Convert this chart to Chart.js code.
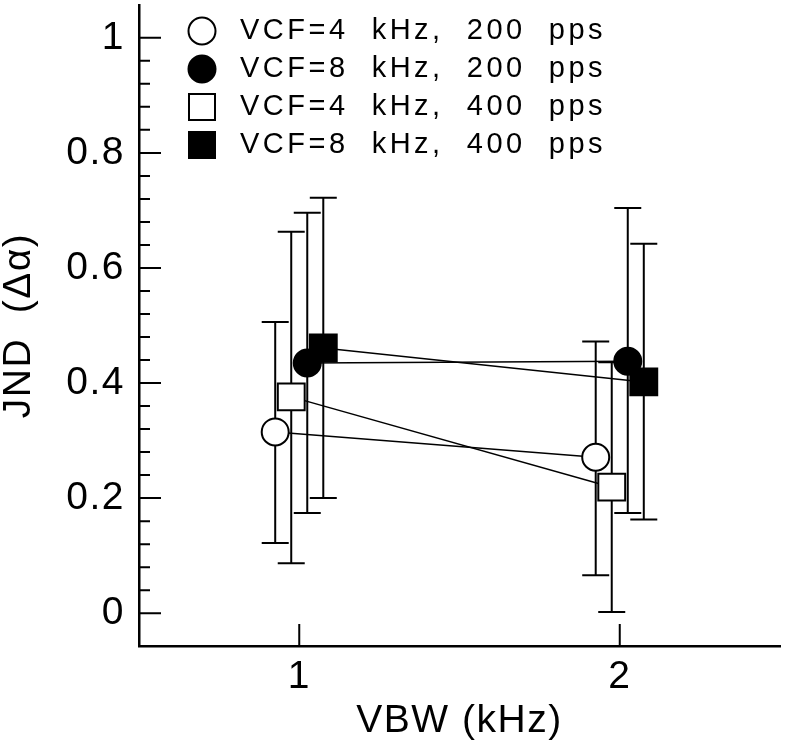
<!DOCTYPE html>
<html>
<head>
<meta charset="utf-8">
<script src="https://cdn.jsdelivr.net/npm/chart.js@4.4.1/dist/chart.umd.min.js"></script>
<style>
  html, body { margin: 0; padding: 0; background: #fff; }
  #wrap { width: 785px; height: 750px; }
</style>
</head>
<body>
<div id="wrap"><canvas id="chart" width="785" height="750"></canvas></div>
<script>
// VBW categories (x) and the small left/right shift of each series
const vbw = [1, 2];
const dodge = [-0.075, 0.025, -0.025, 0.075];

// tick labels
const xTicks = [1, 2];
const yTicks = [0, 0.2, 0.4, 0.6, 0.8, 1];
const yMinorStep = 0.04;

// series: JND mean, lower and upper end of the error bar
const labels = ['VCF=4  kHz,  200  pps', 'VCF=8  kHz,  200  pps', 'VCF=4  kHz,  400  pps', 'VCF=8  kHz,  400  pps'];
const jnd4k200 = [0.315, 0.271];
const low4k200 = [0.122, 0.066];
const high4k200 = [0.506, 0.472];
const jnd8k200 = [0.435, 0.438];
const low8k200 = [0.174, 0.174];
const high8k200 = [0.696, 0.704];
const jnd4k400 = [0.376, 0.219];
const low4k400 = [0.087, 0.002];
const high4k400 = [0.663, 0.436];
const jnd8k400 = [0.461, 0.402];
const low8k400 = [0.200, 0.163];
const high8k400 = [0.722, 0.642];

const FONT = 'Liberation Sans, Arial, sans-serif';

function makeSet(i, means, lows, highs, style, filled){
  return {
    label: labels[i],
    data: vbw.map((v, k) => ({ x: v + dodge[i], y: means[k] })),
    errLow: lows, errHigh: highs,
    showLine: true,
    borderColor: '#000', borderWidth: 1.5,
    pointStyle: style,
    pointRadius: style === 'rect' ? 19 : 13.5,
    pointBorderWidth: 2,
    pointBorderColor: '#000',
    pointBackgroundColor: filled ? '#000' : '#fff'
  };
}

const datasets = [
  makeSet(0, jnd4k200, low4k200, high4k200, 'circle', false),
  makeSet(1, jnd8k200, low8k200, high8k200, 'circle', true),
  makeSet(2, jnd4k400, low4k400, high4k400, 'rect', false),
  makeSet(3, jnd8k400, low8k400, high8k400, 'rect', true)
];

// spacing of the plot's lettering
const spacing = {
  id: 'spacing',
  beforeDraw(chart){ chart.ctx.letterSpacing = '1.5px'; }
};

// error bars, under the markers
const errorBars = {
  id: 'errorBars',
  beforeDatasetsDraw(chart){
    const { ctx, scales: { x, y } } = chart;
    ctx.save();
    ctx.strokeStyle = '#000'; ctx.lineWidth = 2;
    chart.data.datasets.forEach(ds => {
      ds.data.forEach((p, k) => {
        const px = x.getPixelForValue(p.x);
        const yl = y.getPixelForValue(ds.errLow[k]);
        const yh = y.getPixelForValue(ds.errHigh[k]);
        ctx.beginPath();
        ctx.moveTo(px, yl); ctx.lineTo(px, yh);
        ctx.moveTo(px - 13.5, yl); ctx.lineTo(px + 13.5, yl);
        ctx.moveTo(px - 13.5, yh); ctx.lineTo(px + 13.5, yh);
        ctx.stroke();
      });
    });
    ctx.restore();
  }
};

// inward tick marks
const inwardTicks = {
  id: 'inwardTicks',
  afterDraw(chart){
    const { ctx, chartArea, scales: { x, y } } = chart;
    ctx.save();
    ctx.strokeStyle = '#000'; ctx.lineWidth = 2;
    ctx.beginPath();
    const last = yTicks[yTicks.length - 1];
    for (let k = 0; k * yMinorStep <= last + 1e-9; k++){
      const v = k * yMinorStep;
      const major = yTicks.some(t => Math.abs(t - v) < 1e-9);
      const py = y.getPixelForValue(v);
      ctx.moveTo(chartArea.left, py);
      ctx.lineTo(chartArea.left + (major ? 22 : 11), py);
    }
    xTicks.forEach(v => {
      const px = x.getPixelForValue(v);
      ctx.moveTo(px, chartArea.bottom);
      ctx.lineTo(px, chartArea.bottom - 22);
    });
    ctx.stroke();
    ctx.restore();
  }
};

// legend in the top left corner of the plot
const cornerLegend = {
  id: 'cornerLegend',
  afterDraw(chart){
    const ctx = chart.ctx;
    ctx.save();
    ctx.font = '29px ' + FONT;
    ctx.letterSpacing = '3.5px';
    ctx.textBaseline = 'middle';
    ctx.textAlign = 'left';
    ctx.lineWidth = 2;
    chart.data.datasets.forEach((ds, i) => {
      const cy = 31 + i * 38, cx = 202;
      ctx.fillStyle = ds.pointBackgroundColor;
      ctx.strokeStyle = '#000';
      ctx.beginPath();
      if (ds.pointStyle === 'circle') ctx.arc(cx, cy, 13.5, 0, Math.PI * 2);
      else ctx.rect(cx - 13, cy - 13, 26, 26);
      ctx.fill(); ctx.stroke();
      ctx.fillStyle = '#000';
      ctx.fillText(ds.label, 240, cy);
    });
    ctx.restore();
  }
};

new Chart(document.getElementById('chart'), {
  type: 'scatter',
  data: { datasets },
  options: {
    responsive: false,
    animation: false,
    events: [],
    layout: { autoPadding: false, padding: { top: 5, right: 5, left: 0, bottom: 0 } },
    plugins: { legend: { display: false }, tooltip: { enabled: false } },
    scales: {
      x: {
        type: 'linear', min: 0.5, max: 2.5,
        afterBuildTicks: s => { s.ticks = xTicks.map(v => ({ value: v })); },
        afterFit: s => { s.height = 104; s.paddingLeft = 0; s.paddingRight = 0; },
        grid: { display: false },
        border: { display: true, color: '#000', width: 2.5 },
        ticks: { color: '#000', font: { family: FONT, size: 39 }, padding: 0, maxRotation: 0, callback: v => String(v) },
        title: { display: true, text: 'VBW (kHz)', color: '#000', font: { family: FONT, size: 39, lineHeight: 1 }, padding: { top: 0, bottom: 9.5 } }
      },
      y: {
        type: 'linear', min: -0.057, max: 1.057,
        afterBuildTicks: s => { s.ticks = yTicks.map(v => ({ value: v })); },
        afterFit: s => { s.width = 139; s.paddingTop = 0; s.paddingBottom = 0; },
        grid: { display: false },
        border: { display: true, color: '#000', width: 2.5 },
        ticks: { color: '#000', font: { family: FONT, size: 39 }, padding: 6, callback: v => String(v) },
        title: { display: true, text: 'JND  (Δα)', color: '#000', font: { family: FONT, size: 39, lineHeight: 1 }, padding: { top: 0, bottom: 0 } }
      }
    }
  },
  plugins: [spacing, errorBars, inwardTicks, cornerLegend]
});
</script>
</body>
</html>
